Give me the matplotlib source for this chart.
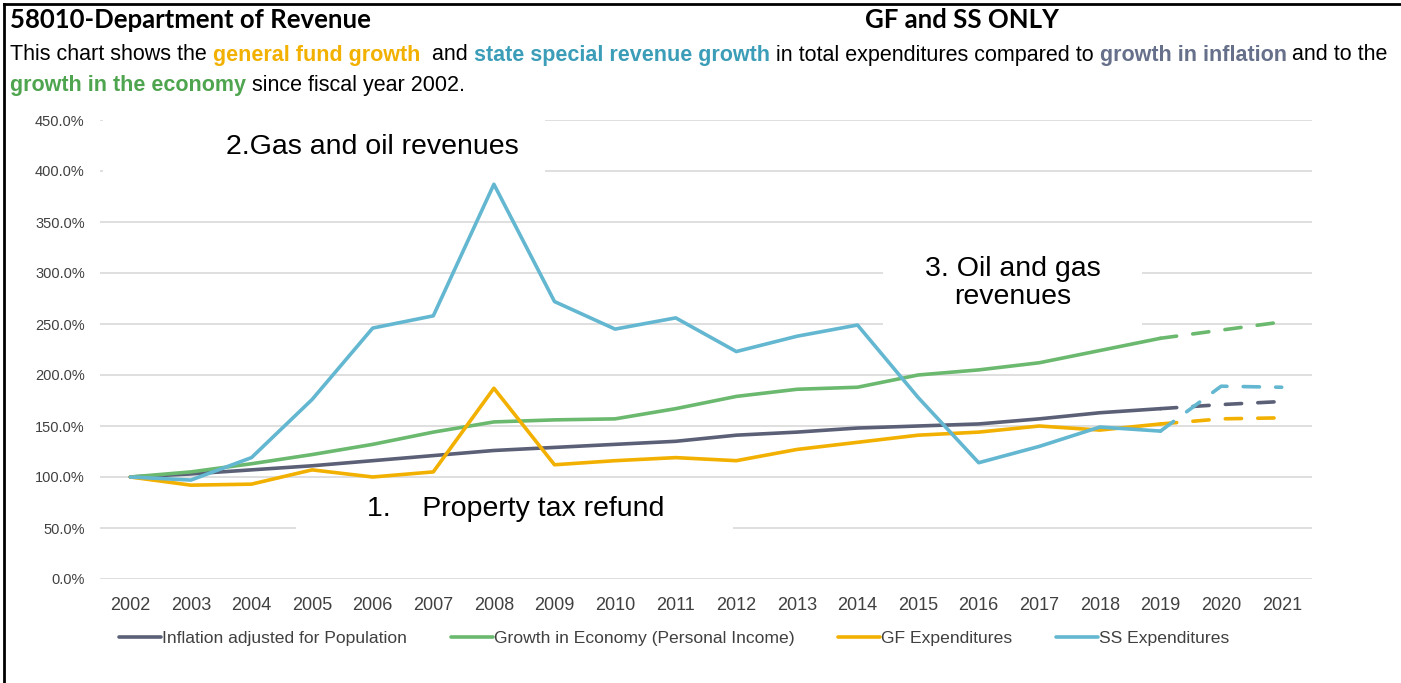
import matplotlib
matplotlib.use("Agg")
import matplotlib.pyplot as plt
from matplotlib.patches import Rectangle
from matplotlib import font_manager

years = list(range(2002, 2022))
inflation = [100, 103, 107, 111, 116, 121, 126, 129, 132, 135, 141, 144, 148, 150, 152, 157, 163, 167, 171, 174]
economy = [100, 105, 113, 122, 132, 144, 154, 156, 157, 167, 179, 186, 188, 200, 205, 212, 224, 236, 244, 252]
gf_exp = [100, 92, 93, 107, 100, 105, 187, 112, 116, 119, 116, 127, 134, 141, 144, 150, 146, 152, 157, 158]
ss_exp = [100, 97, 119, 176, 246, 258, 387, 272, 245, 256, 223, 238, 249, 178, 114, 130, 149, 145, 189, 188]

series = [
    ("Inflation adjusted for Population", inflation, "#5b6077"),
    ("Growth in Economy (Personal Income)", economy, "#6bb96f"),
    ("GF Expenditures", gf_exp, "#f2b000"),
    ("SS Expenditures", ss_exp, "#63b7d0"),
]
n_actual = 18  # 2002..2019 actual, 2020-2021 projected

names = {f.name for f in font_manager.fontManager.ttflist}
sans = "Liberation Sans" if "Liberation Sans" in names else "DejaVu Sans"
head = "Lato" if "Lato" in names else sans
plt.rcParams["font.family"] = sans

W, H = 1401, 683
fig = plt.figure(figsize=(W / 100, H / 100), dpi=100)


def fx(px):
    return px / W


def fy(py):
    return 1 - py / H


ax = fig.add_axes([fx(100), fy(579), fx(1312) - fx(100), fy(120) - fy(579)])
ax.set_xlim(2001.5, 2021.5)
ax.set_ylim(0, 450)
ax.set_yticks(range(0, 451, 50))
ax.set_yticklabels(["{:.1f}%".format(v) for v in range(0, 451, 50)], fontsize=10.5, color="#404040")
ax.set_xticks(years)
ax.set_xticklabels([str(y) for y in years], fontsize=13, color="#404040")
ax.tick_params(axis="x", length=0, pad=13)
ax.tick_params(axis="y", length=0, pad=11)
ax.grid(axis="y", color="#d9d9d9", lw=1.2, zorder=0)
ax.set_axisbelow(True)
for s in ax.spines.values():
    s.set_visible(False)

handles = []
for label, vals, col in series:
    (h,) = ax.plot(years[:n_actual], vals[:n_actual], color=col, lw=2.6,
                   solid_capstyle="round", solid_joinstyle="round", zorder=3, label=label)
    ax.plot(years[n_actual - 1:], vals[n_actual - 1:], color=col, lw=2.6,
            dashes=(4.5, 4.5), dash_capstyle="round", zorder=3)
    handles.append(h)

# white boxes behind the annotations (hide gridlines like the original)
def box(x0, y0, x1, y1):
    fig.add_artist(Rectangle((fx(x0), fy(y1)), fx(x1) - fx(x0), fy(y0) - fy(y1),
                             transform=fig.transFigure, facecolor="white",
                             edgecolor="none", zorder=2))

box(103, 112, 545, 176)
box(883, 250, 1142, 330)
box(296, 486, 733, 536)

fig.text(fx(372), fy(147), "2.Gas and oil revenues", fontsize=20.5, ha="center", va="center", zorder=4)
fig.text(fx(1013), fy(283), "3. Oil and gas\nrevenues", fontsize=20.5, ha="center", va="center",
         linespacing=1.08, zorder=4)
fig.text(fx(367), fy(509), "1.    Property tax refund", fontsize=20.5, ha="left", va="center", zorder=4)

leg = fig.legend(handles=handles, loc="center", bbox_to_anchor=(fx(674), fy(638)), ncol=4,
                 frameon=False, fontsize=12.6, handlelength=2.4, handletextpad=0.05,
                 columnspacing=2.5)
for t in leg.get_texts():
    t.set_color("#404040")

# header
fig.text(fx(10), fy(20), "58010-Department of Revenue", fontsize=18.5, fontweight="bold",
         family=head, va="center")
fig.text(fx(962), fy(20), "GF and SS ONLY", fontsize=18.5, fontweight="bold",
         family=head, va="center", ha="center")

renderer = fig.canvas.get_renderer()


def colored_line(parts, x_px, y_px, size):
    x = fx(x_px)
    for txt, col, bold in parts:
        t = fig.text(x, fy(y_px), txt, fontsize=size, color=col,
                     fontweight="bold" if bold else "normal", va="center", ha="left")
        bb = t.get_window_extent(renderer=renderer)
        x += bb.width / W


sub_size = 15.5
colored_line([
    ("This chart shows the ", "black", False),
    ("general fund growth", "#f2b000", True),
    ("  and ", "black", False),
    ("state special revenue growth", "#3b9db8", True),
    (" in total expenditures compared to ", "black", False),
    ("growth in inflation", "#66708a", True),
    (" and to the", "black", False),
], 10, 55, sub_size)
colored_line([
    ("growth in the economy", "#4fa54f", True),
    (" since fiscal year 2002.", "black", False),
], 10, 86, sub_size)

# frame on left and top
fig.add_artist(plt.Line2D([fx(4), fx(4)], [0, fy(4)], transform=fig.transFigure, color="black", lw=2))
fig.add_artist(plt.Line2D([fx(4), 1], [fy(4), fy(4)], transform=fig.transFigure, color="black", lw=2))

fig.savefig("out.png", dpi=100, facecolor="white")
